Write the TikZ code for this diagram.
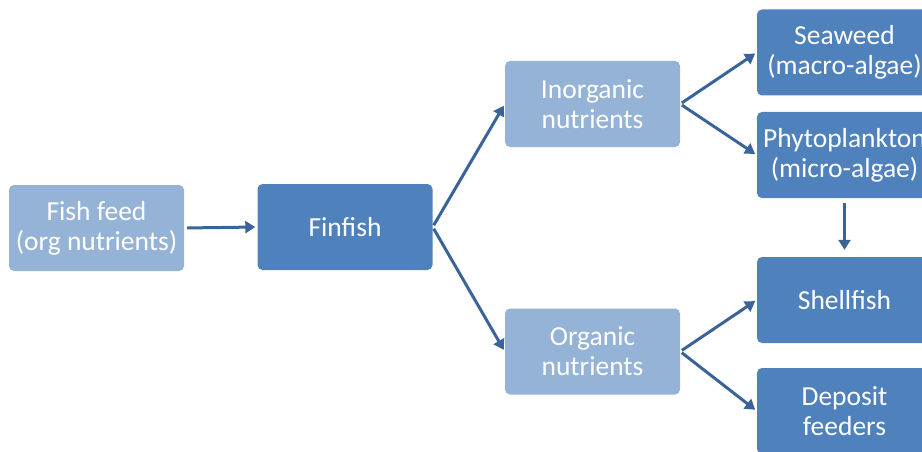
\documentclass[tikz,border=0pt]{standalone}
\usepackage{fontspec}
\setmainfont{Carlito}
\usetikzlibrary{arrows.meta}
\definecolor{lightbox}{HTML}{95B3D7}
\definecolor{darkbox}{HTML}{4F81BD}
\definecolor{arrowc}{HTML}{3A6499}
\begin{document}
\begin{tikzpicture}[x=1pt,y=-1pt,
  box/.style={rounded corners=5pt, minimum width=175pt, minimum height=86pt, text=white, align=center, font=\fontsize{27.5}{30}\selectfont, inner sep=0pt},
  lbox/.style={box, fill=lightbox},
  dbox/.style={box, fill=darkbox},
  arr/.style={draw=arrowc, line width=3pt, -{Triangle[length=10pt,width=12pt]}, shorten >=2pt, shorten <=2pt}]
\useasboundingbox (0,0) rectangle (922,452);
\clip (0,0) rectangle (922,452);
\node[lbox] (feed) at (96.5,228) {Fish feed\\(org nutrients)};
\node[dbox] (fin) at (345,227) {Finfish};
\node[lbox] (inorg) at (592.5,104) {Inorganic\\nutrients};
\node[lbox] (org) at (592.5,351.5) {Organic\\nutrients};
\node[dbox] (sea) at (844.5,52.5) {Seaweed\\(macro-algae)};
\node[dbox] (phy) at (844.5,155) {Phytoplankton\\(micro-algae)};
\node[dbox] (shell) at (844.5,300) {Shellfish};
\node[dbox] (dep) at (844.5,411) {Deposit\\feeders};
\draw[arr, shorten <=3pt] (feed.east) -- (fin.west);
\draw[arr] (fin.east) -- (inorg.west);
\draw[arr] (fin.east) -- (org.west);
\draw[arr] (inorg.east) -- (sea.west);
\draw[arr] (inorg.east) -- (phy.west);
\draw[arr] (org.east) -- (shell.west);
\draw[arr] (org.east) -- (dep.west);
\draw[arr, shorten <=5pt, shorten >=7pt] (phy.south) -- (shell.north);
\end{tikzpicture}
\end{document}
